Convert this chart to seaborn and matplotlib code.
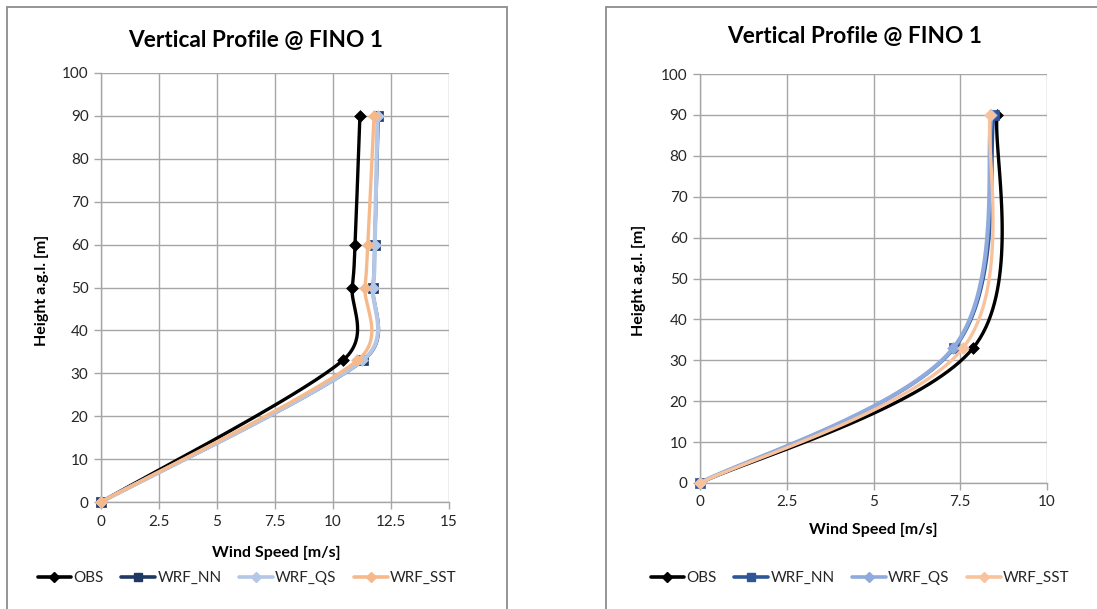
import numpy as np
import pandas as pd
import matplotlib
matplotlib.use("Agg")
import matplotlib.pyplot as plt
import seaborn as sns
from matplotlib.lines import Line2D
from matplotlib.patches import Rectangle

# ---------------- data ----------------
series_names = ["OBS", "WRF_NN", "WRF_QS", "WRF_SST"]

left_heights = [0, 33, 50, 60, 90]
left_obs = [0, 10.42, 10.83, 10.95, 11.16]
left_nn = [0, 11.30, 11.72, 11.80, 11.95]
left_qs = [0, 11.27, 11.72, 11.80, 11.92]
left_sst = [0, 11.05, 11.38, 11.50, 11.77]

right_heights = [0, 33, 90]
right_obs = [0, 7.87, 8.56]
right_nn = [0, 7.33, 8.48]
right_qs = [0, 7.30, 8.40]
right_sst = [0, 7.58, 8.36]

left_xticks = [0, 2.5, 5, 7.5, 10, 12.5, 15]
left_xticklabels = ["0", "2.5", "5", "7.5", "10", "12.5", "15"]
right_xticks = [0, 2.5, 5, 7.5, 10]
right_xticklabels = ["0", "2.5", "5", "7.5", "10"]
yticks = [0, 10, 20, 30, 40, 50, 60, 70, 80, 90, 100]

title = "Vertical Profile @ FINO 1"
xlabel = "Wind Speed [m/s]"
ylabel = "Height a.g.l. [m]"

# ---------------- style ----------------
sns.set_theme(style="white")
plt.rcParams["font.family"] = ["Lato", "DejaVu Sans"]

W, H = 1097, 609
fig = plt.figure(figsize=(W / 100, H / 100), dpi=100)

def fx(px):
    return px / W

def fy(py):
    return 1 - py / H

# panel borders
for x0, x1 in [(7, 507), (606, 1105)]:
    fig.patches.append(Rectangle((fx(x0), fy(620)), fx(x1) - fx(x0), fy(7) - fy(620),
                                 transform=fig.transFigure, fill=False,
                                 edgecolor="#8c8c8c", linewidth=1.3, zorder=0))

axL = fig.add_axes([fx(101), fy(502), fx(449) - fx(101), fy(73) - fy(502)])
axR = fig.add_axes([fx(700), fy(483), fx(1047) - fx(700), fy(74) - fy(483)])

grid_col = "#a6a6a6"

def style_axis(ax, xmax, xticks, xticklabels):
    ax.set_xlim(0, xmax)
    ax.set_ylim(0, 100)
    ax.set_xticks(xticks)
    ax.set_xticklabels(xticklabels)
    ax.set_yticks(yticks)
    ax.grid(True, color=grid_col, linewidth=1.0)
    for s in ["top", "right"]:
        ax.spines[s].set_visible(False)
    for s in ["left", "bottom"]:
        ax.spines[s].set_color(grid_col)
        ax.spines[s].set_linewidth(1.0)
    ax.tick_params(axis="both", which="major", length=5, width=1.0, color=grid_col,
                   labelsize=11, labelcolor="#262626", pad=4, direction="out",
                   bottom=True, left=True)
    ax.set_xlabel("")
    ax.set_ylabel("")

style_axis(axL, 15, left_xticks, left_xticklabels)
style_axis(axR, 10, right_xticks, right_xticklabels)


def smooth(ax, xs, ys, n=40):
    """Excel-style smoothed line (Bezier with limited 1/6 tension), in display space."""
    pts = ax.transData.transform(np.column_stack([xs, ys]))
    P = np.vstack([pts[0], pts, pts[-1]])
    out = []
    t = np.linspace(0, 1, n)[:, None]
    for i in range(1, len(P) - 2):
        p0, p1, p2, p3 = P[i - 1], P[i], P[i + 1], P[i + 2]
        d12 = np.linalg.norm(p2 - p1)
        d02 = np.linalg.norm(p2 - p0)
        d13 = np.linalg.norm(p3 - p1)
        f1 = 1 / 6
        f2 = 1 / 6
        if d02 / 6 > d12 / 2 and d02 > 0:
            f1 = d12 / (2 * d02)
        if d13 / 6 > d12 / 2 and d13 > 0:
            f2 = d12 / (2 * d13)
        c1 = p1 + (p2 - p0) * f1
        c2 = p2 - (p3 - p1) * f2
        seg = (1 - t) ** 3 * p1 + 3 * (1 - t) ** 2 * t * c1 + 3 * (1 - t) * t ** 2 * c2 + t ** 3 * p2
        out.append(seg if i == 1 else seg[1:])
    out = np.vstack(out)
    return ax.transData.inverted().transform(out)


left_colors = {"OBS": "#000000", "WRF_NN": "#1f3864", "WRF_QS": "#b4c7e7", "WRF_SST": "#f6b98c"}
right_colors = {"OBS": "#000000", "WRF_NN": "#2f5597", "WRF_QS": "#8faadc", "WRF_SST": "#f8c39c"}
markers = {"OBS": "D", "WRF_NN": "s", "WRF_QS": "D", "WRF_SST": "D"}
msizes = {"OBS": 36, "WRF_NN": 50, "WRF_QS": 36, "WRF_SST": 36}
lwidths = {"OBS": 2.4, "WRF_NN": 2.4, "WRF_QS": 3.0, "WRF_SST": 2.4}


def draw(ax, data, heights, colors):
    for k, name in enumerate(series_names):
        xs = data[name]
        curve = smooth(ax, xs, heights)
        df = pd.DataFrame({"x": curve[:, 0], "y": curve[:, 1]})
        sns.lineplot(data=df, x="x", y="y", sort=False, estimator=None, ax=ax,
                     color=colors[name], linewidth=lwidths[name], zorder=3 + k)
        mdf = pd.DataFrame({"x": xs, "y": heights})
        sns.scatterplot(data=mdf, x="x", y="y", ax=ax, marker=markers[name], s=msizes[name],
                        color=colors[name], edgecolor=colors[name], linewidth=0.5, zorder=3 + k,
                        clip_on=False)
    ax.set_xlabel("")
    ax.set_ylabel("")


draw(axL, {"OBS": left_obs, "WRF_NN": left_nn, "WRF_QS": left_qs, "WRF_SST": left_sst},
     left_heights, left_colors)
draw(axR, {"OBS": right_obs, "WRF_NN": right_nn, "WRF_QS": right_qs, "WRF_SST": right_sst},
     right_heights, right_colors)

# titles and labels
fig.text(fx(256), fy(40), title, ha="center", va="center", fontsize=16.3, fontweight="bold", color="#000000")
fig.text(fx(855), fy(36), title, ha="center", va="center", fontsize=16.3, fontweight="bold", color="#000000")
fig.text(fx(276), fy(553), xlabel, ha="center", va="center", fontsize=11.5, fontweight="bold", color="#000000")
fig.text(fx(873), fy(530), xlabel, ha="center", va="center", fontsize=11.5, fontweight="bold", color="#000000")
fig.text(fx(42), fy(290), ylabel, ha="center", va="center", rotation=90, fontsize=11.5, fontweight="bold", color="#000000")
fig.text(fx(639), fy(280), ylabel, ha="center", va="center", rotation=90, fontsize=11.5, fontweight="bold", color="#000000")


def legend(colors, cx):
    handles = [Line2D([0], [0], color=colors[n], linewidth=2.6, marker=markers[n],
                      markersize=5 if n != "WRF_NN" else 6, markerfacecolor=colors[n],
                      markeredgecolor=colors[n]) for n in series_names]
    fig.legend(handles, series_names, loc="center", bbox_to_anchor=(fx(cx), fy(578)), ncol=4,
               frameon=False, fontsize=11, handlelength=2.2, handletextpad=0.15,
               columnspacing=1.15, borderaxespad=0)


legend(left_colors, 247)
legend(right_colors, 860)

fig.savefig("out.png", dpi=100)
